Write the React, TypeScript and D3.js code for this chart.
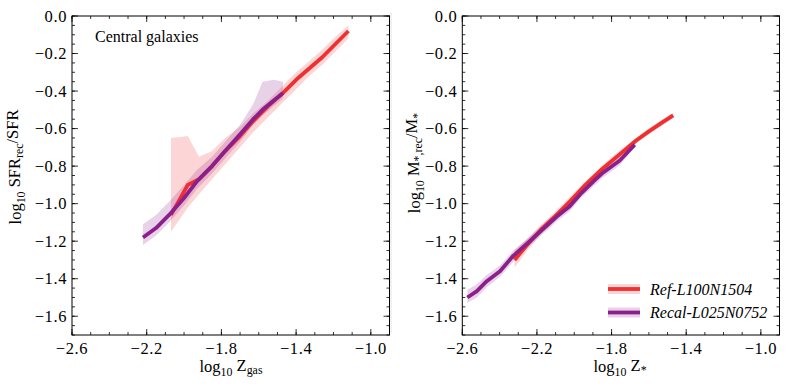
import * as d3 from 'd3';

const W = 789;
const H = 389;
const TOP = 16;
const BOTTOM = 335;
const FONT = "'Liberation Serif', 'Times New Roman', serif";

const RED = '#ee3030';
const PURPLE = '#8b1f8b';

// tick labels
const xMajor = [-2.6, -2.2, -1.8, -1.4, -1.0];
const yMajor = [0.0, -0.2, -0.4, -0.6, -0.8, -1.0, -1.2, -1.4, -1.6];

// left panel: SFR_rec / SFR vs Z_gas
const leftRefX = [-2.07, -1.98, -1.92, -1.85, -1.78, -1.7, -1.63, -1.55, -1.47, -1.4, -1.33, -1.26, -1.2, -1.12];
const leftRefY = [-1.06, -0.9, -0.87, -0.8, -0.72, -0.64, -0.56, -0.48, -0.41, -0.34, -0.28, -0.22, -0.16, -0.08];
const leftRefHi = [-0.65, -0.64, -0.75, -0.72, -0.65, -0.59, -0.52, -0.45, -0.37, -0.3, -0.24, -0.18, -0.12, -0.05];
const leftRefLo = [-1.15, -1.02, -0.95, -0.87, -0.79, -0.7, -0.62, -0.54, -0.46, -0.39, -0.32, -0.26, -0.2, -0.12];

const leftRecalX = [-2.22, -2.15, -2.08, -2.0, -1.93, -1.85, -1.78, -1.7, -1.63, -1.58, -1.52, -1.47];
const leftRecalY = [-1.18, -1.13, -1.06, -0.97, -0.88, -0.8, -0.72, -0.63, -0.55, -0.5, -0.45, -0.41];
const leftRecalHi = [-1.11, -1.06, -0.99, -0.9, -0.82, -0.75, -0.67, -0.58, -0.47, -0.35, -0.34, -0.35];
const leftRecalLo = [-1.22, -1.17, -1.1, -1.01, -0.92, -0.84, -0.76, -0.67, -0.58, -0.53, -0.48, -0.44];

// right panel: M*_rec / M* vs Z*
const rightRefX = [-2.32, -2.24, -2.18, -2.1, -2.02, -1.94, -1.85, -1.76, -1.67, -1.6, -1.54, -1.47];
const rightRefY = [-1.3, -1.205, -1.14, -1.065, -0.985, -0.9, -0.815, -0.74, -0.665, -0.615, -0.575, -0.53];
const rightRefHi = [-1.25, -1.175, -1.115, -1.04, -0.96, -0.88, -0.795, -0.72, -0.65, -0.6, -0.56, -0.515];
const rightRefLo = [-1.34, -1.235, -1.165, -1.09, -1.01, -0.92, -0.835, -0.76, -0.68, -0.63, -0.59, -0.545];

const rightRecalX = [-2.573, -2.522, -2.469, -2.398, -2.327, -2.255, -2.184, -2.095, -2.024, -1.97, -1.89, -1.846, -1.756, -1.676];
const rightRecalY = [-1.5, -1.466, -1.413, -1.36, -1.278, -1.215, -1.15, -1.07, -1.014, -0.952, -0.875, -0.835, -0.77, -0.686];
const rightRecalHi = [-1.46, -1.43, -1.38, -1.33, -1.25, -1.19, -1.125, -1.045, -0.99, -0.93, -0.855, -0.815, -0.75, -0.67];
const rightRecalLo = [-1.53, -1.5, -1.445, -1.39, -1.31, -1.24, -1.175, -1.095, -1.04, -0.975, -0.9, -0.86, -0.795, -0.7];

const legendLabels = ['Ref-L100N1504', 'Recal-L025N0752'];

type Series = { xs: number[]; ys: number[]; lo: number[]; hi: number[]; color: string };

const Sub = ({ children }: { children: string }) => (
  <tspan fontSize="0.72em" dy="0.3em">{children}</tspan>
);

const Panel = ({ x0, x1, series, children }: { x0: number; x1: number; series: Series[]; children?: any }) => {
  const xScale = d3.scaleLinear().domain([-2.6, -0.9]).range([x0, x1]);
  const yScale = d3.scaleLinear().domain([-1.7, 0]).range([BOTTOM, TOP]);
  const fmt = d3.format('.1f');

  const xMinor = d3.range(-2.6, -0.85, 0.1);
  const yMinor = d3.range(0, -1.71, -0.05);

  const bands = series.map((s, i) => {
    const area = d3
      .area<number>()
      .x((_, j) => xScale(s.xs[j]))
      .y0((_, j) => yScale(s.lo[j]))
      .y1((_, j) => yScale(s.hi[j]));
    return <path key={`band-${i}`} d={area(s.xs) || ''} fill={s.color} fillOpacity={0.2} stroke="none" />;
  });

  const lines = series.map((s, i) => {
    const line = d3
      .line<number>()
      .x((_, j) => xScale(s.xs[j]))
      .y((_, j) => yScale(s.ys[j]));
    return (
      <path key={`line-${i}`} d={line(s.xs) || ''} fill="none" stroke={s.color} strokeWidth={3.8} strokeLinejoin="round" />
    );
  });

  return (
    <g>
      {bands}
      {lines}
      {/* ticks on all four sides, pointing in */}
      {xMinor.map(v => (
        <g key={`xm${v.toFixed(2)}`}>
          <line x1={xScale(v)} x2={xScale(v)} y1={BOTTOM} y2={BOTTOM - 3} stroke="#000" strokeWidth={0.8} />
          <line x1={xScale(v)} x2={xScale(v)} y1={TOP} y2={TOP + 3} stroke="#000" strokeWidth={0.8} />
        </g>
      ))}
      {yMinor.map(v => (
        <g key={`ym${v.toFixed(2)}`}>
          <line x1={x0} x2={x0 + 3} y1={yScale(v)} y2={yScale(v)} stroke="#000" strokeWidth={0.8} />
          <line x1={x1} x2={x1 - 3} y1={yScale(v)} y2={yScale(v)} stroke="#000" strokeWidth={0.8} />
        </g>
      ))}
      {xMajor.map(v => (
        <g key={`xM${v}`}>
          <line x1={xScale(v)} x2={xScale(v)} y1={BOTTOM} y2={BOTTOM - 6} stroke="#000" strokeWidth={0.8} />
          <line x1={xScale(v)} x2={xScale(v)} y1={TOP} y2={TOP + 6} stroke="#000" strokeWidth={0.8} />
          <text x={xScale(v)} y={BOTTOM + 19} fontSize={16.5} letterSpacing={0.6} textAnchor="middle">
            {fmt(v)}
          </text>
        </g>
      ))}
      {yMajor.map(v => (
        <g key={`yM${v}`}>
          <line x1={x0} x2={x0 + 6} y1={yScale(v)} y2={yScale(v)} stroke="#000" strokeWidth={0.8} />
          <line x1={x1} x2={x1 - 6} y1={yScale(v)} y2={yScale(v)} stroke="#000" strokeWidth={0.8} />
          <text x={x0 - 5} y={yScale(v) + 5.5} fontSize={16.5} letterSpacing={0.6} textAnchor="end">
            {fmt(v)}
          </text>
        </g>
      ))}
      <rect x={x0} y={TOP} width={x1 - x0} height={BOTTOM - TOP} fill="none" stroke="#000" strokeWidth={1} />
      {children}
    </g>
  );
};

const App = () => {
  const leftSeries: Series[] = [
    { xs: leftRefX, ys: leftRefY, lo: leftRefLo, hi: leftRefHi, color: RED },
    { xs: leftRecalX, ys: leftRecalY, lo: leftRecalLo, hi: leftRecalHi, color: PURPLE },
  ];
  const rightSeries: Series[] = [
    { xs: rightRefX, ys: rightRefY, lo: rightRefLo, hi: rightRefHi, color: RED },
    { xs: rightRecalX, ys: rightRecalY, lo: rightRecalLo, hi: rightRecalHi, color: PURPLE },
  ];
  const legendColors = [RED, PURPLE];

  return (
    <svg width={W} height={H} style={{ position: 'absolute', left: 0, top: 0, fontFamily: FONT }}>
      <rect width={W} height={H} fill="#fff" />
      <line x1={391} x2={391} y1={13} y2={333} stroke="#e4e4e4" strokeWidth={1} />
      <Panel x0={72} x1={389.5} series={leftSeries}>
        <text x={95} y={42} fontSize={16}>Central galaxies</text>
      </Panel>
      <Panel x0={462.3} x1={779.5} series={rightSeries}>
        {legendLabels.map((name, i) => {
          const y = 289 + i * 23.5;
          return (
            <g key={name}>
              <rect x={608} y={y - 5} width={32} height={10} fill={legendColors[i]} fillOpacity={0.2} />
              <line x1={608} x2={640} y1={y} y2={y} stroke={legendColors[i]} strokeWidth={3.8} />
              <text x={650} y={y + 5.5} fontSize={16} fontStyle="italic">{name}</text>
            </g>
          );
        })}
      </Panel>
      <text x={231} y={372} fontSize={16.5} textAnchor="middle">
        log<Sub>10</Sub>
        <tspan dy="-0.3em"> Z</tspan>
        <Sub>gas</Sub>
      </text>
      <text x={620} y={372} fontSize={16.5} textAnchor="middle">
        log<Sub>10</Sub>
        <tspan dy="-0.3em"> Z</tspan>
        <Sub>*</Sub>
      </text>
      <text transform="translate(21,167) rotate(-90)" fontSize={16.5} textAnchor="middle">
        log<Sub>10</Sub>
        <tspan dy="-0.3em"> SFR</tspan>
        <Sub>rec</Sub>
        <tspan dy="-0.3em">/SFR</tspan>
      </text>
      <text transform="translate(420,163) rotate(-90)" fontSize={16.5} textAnchor="middle">
        log<Sub>10</Sub>
        <tspan dy="-0.3em"> M</tspan>
        <Sub>*,rec</Sub>
        <tspan dy="-0.3em">/M</tspan>
        <Sub>*</Sub>
      </text>
    </svg>
  );
};

export default App;
